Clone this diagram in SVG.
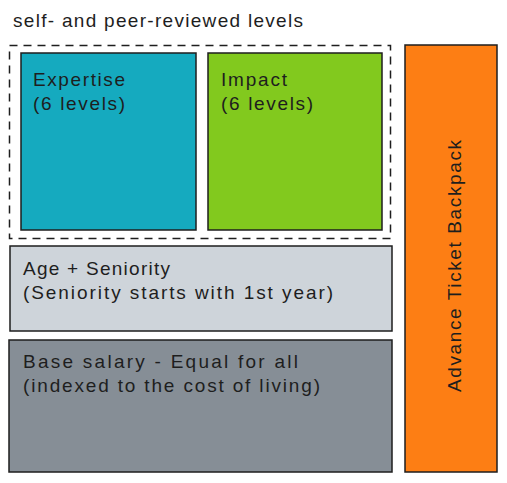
<svg xmlns="http://www.w3.org/2000/svg" width="507" height="483" viewBox="0 0 507 483">
  <style>
    .box { stroke: #1e1e1e; stroke-width: 1.5; }
    .lbl { font-family: "Liberation Sans", "DejaVu Sans", sans-serif; font-size: 19px; fill: #1e1e1e; }
  </style>
  <rect width="507" height="483" fill="#ffffff"/>

  <!-- group caption and dashed frame -->
  <g id="reviewed-group">
    <text class="lbl" x="13" y="27" font-size="20" textLength="290" lengthAdjust="spacing">self- and peer-reviewed levels</text>
    <rect x="9.5" y="45.5" width="381" height="193" fill="none" stroke="#1e1e1e" stroke-width="1.5" stroke-dasharray="8 6"/>
  </g>

  <g id="expertise">
    <rect class="box" x="21" y="53" width="175" height="177" fill="#15aabf"/>
    <text class="lbl" x="33" y="86" textLength="92" lengthAdjust="spacing">Expertise</text>
    <text class="lbl" x="33" y="110" textLength="92" lengthAdjust="spacing">(6 levels)</text>
  </g>

  <g id="impact">
    <rect class="box" x="208" y="53" width="174" height="177" fill="#82c91e"/>
    <text class="lbl" x="221" y="86" textLength="66" lengthAdjust="spacing">Impact</text>
    <text class="lbl" x="221" y="110" textLength="92" lengthAdjust="spacing">(6 levels)</text>
  </g>

  <g id="age-seniority">
    <rect class="box" x="10" y="246" width="382" height="85" fill="#ced4da"/>
    <text class="lbl" x="23" y="275" textLength="147" lengthAdjust="spacing">Age + Seniority</text>
    <text class="lbl" x="23" y="299" textLength="310" lengthAdjust="spacing">(Seniority starts with 1st year)</text>
  </g>

  <g id="base-salary">
    <rect class="box" x="9" y="340" width="383" height="132" fill="#868e96"/>
    <text class="lbl" x="23" y="368" textLength="275" lengthAdjust="spacing">Base salary - Equal for all</text>
    <text class="lbl" x="23" y="392" textLength="297" lengthAdjust="spacing">(indexed to the cost of living)</text>
  </g>

  <g id="backpack">
    <rect class="box" x="405" y="45" width="92" height="427" fill="#fd7e14"/>
    <text class="lbl" x="0" y="0" text-anchor="middle" textLength="252" lengthAdjust="spacing" transform="translate(461 266) rotate(-90)">Advance Ticket Backpack</text>
  </g>

  <g id="connectors"></g>
</svg>
